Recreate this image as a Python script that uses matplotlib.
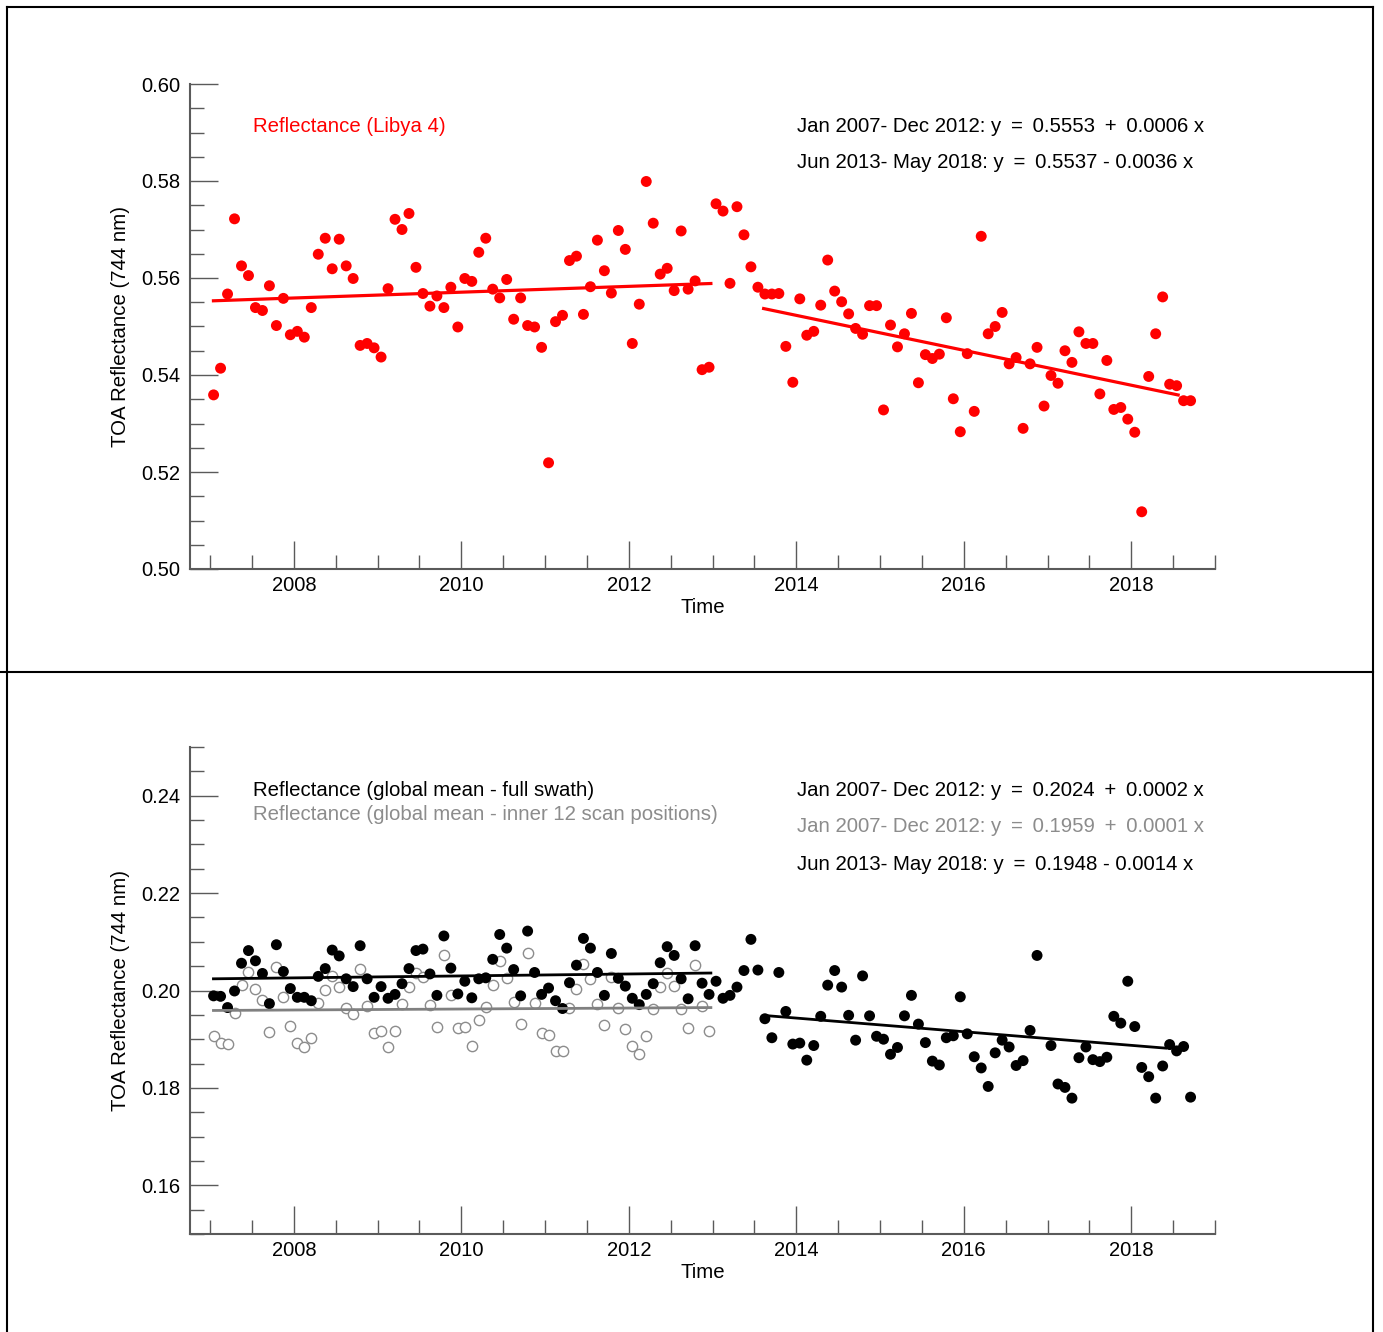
import matplotlib
matplotlib.use("Agg")
import matplotlib.pyplot as plt
import numpy as np
import pandas as pd
from matplotlib.lines import Line2D
from matplotlib.ticker import MultipleLocator

plt.rcParams["font.family"] = ["Liberation Sans", "DejaVu Sans"]

# monthly sample months, Jan 2007 - Sep 2018
months = pd.date_range("2007-01-01", periods=141, freq="MS")

# Libya 4 reflectance (top panel)
libya = [
    0.5359, 0.5414, 0.5567, 0.5722, 0.5625, 0.5605, 0.5539, 0.5533, 0.5584, 0.5502, 0.5558, 0.5483,
    0.5490, 0.5478, 0.5539, 0.5649, 0.5682, 0.5619, 0.5680, 0.5625, 0.5599, 0.5461, 0.5465, 0.5456,
    0.5437, 0.5578, 0.5721, 0.5700, 0.5733, 0.5622, 0.5568, 0.5542, 0.5563, 0.5539, 0.5581, 0.5499,
    0.5599, 0.5593, 0.5653, 0.5682, 0.5577, 0.5559, 0.5597, 0.5515, 0.5559, 0.5502, 0.5499, 0.5457,
    0.5219, 0.5510, 0.5523, 0.5636, 0.5645, 0.5525, 0.5582, 0.5678, 0.5615, 0.5569, 0.5698, 0.5659,
    0.5465, 0.5546, 0.5799, 0.5713, 0.5608, 0.5620, 0.5574, 0.5697, 0.5577, 0.5594, 0.5411, 0.5416,
    0.5753, 0.5738, 0.5589, 0.5747, 0.5689, 0.5623, 0.5581, 0.5567, 0.5567, 0.5568, 0.5459, 0.5385,
    0.5557, 0.5482, 0.5490, 0.5544, 0.5637, 0.5573, 0.5551, 0.5526, 0.5496, 0.5484, 0.5543, 0.5543,
    0.5328, 0.5503, 0.5458, 0.5485, 0.5527, 0.5384, 0.5442, 0.5434, 0.5443, 0.5518, 0.5351, 0.5283,
    0.5444, 0.5325, 0.5686, 0.5485, 0.5500, 0.5529, 0.5423, 0.5436, 0.5290, 0.5423, 0.5457, 0.5336,
    0.5399, 0.5383, 0.5450, 0.5426, 0.5489, 0.5465, 0.5465, 0.5361, 0.5430, 0.5329, 0.5333, 0.5309,
    0.5282, 0.5118, 0.5397, 0.5485, 0.5561, 0.5381, 0.5378, 0.5347, 0.5347,
]

# global mean, full swath (bottom panel, filled black)
full_swath = [
    0.1989, 0.1988, 0.1965, 0.1999, 0.2056, 0.2082, 0.2061, 0.2035, 0.1973, 0.2094, 0.2039, 0.2004,
    0.1986, 0.1986, 0.1979, 0.2029, 0.2045, 0.2083, 0.2071, 0.2024, 0.2008, 0.2092, 0.2024, 0.1986,
    0.2008, 0.1984, 0.1992, 0.2014, 0.2045, 0.2082, 0.2085, 0.2034, 0.1990, 0.2112, 0.2046, 0.1993,
    0.2019, 0.1985, 0.2024, 0.2026, 0.2064, 0.2115, 0.2087, 0.2043, 0.1989, 0.2122, 0.2037, 0.1992,
    0.2005, 0.1979, 0.1963, 0.2016, 0.2052, 0.2107, 0.2087, 0.2037, 0.1990, 0.2076, 0.2025, 0.2009,
    0.1984, 0.1971, 0.1992, 0.2014, 0.2057, 0.2090, 0.2072, 0.2024, 0.1983, 0.2092, 0.2015, 0.1992,
    0.2019, 0.1984, 0.1990, 0.2007, 0.2041, 0.2105, 0.2042, 0.1942, 0.1903, 0.2037, 0.1957, 0.1890,
    0.1892, 0.1857, 0.1887, 0.1947, 0.2011, 0.2041, 0.2007, 0.1949, 0.1898, 0.2030, 0.1948, 0.1906,
    0.1900, 0.1869, 0.1883, 0.1948, 0.1990, 0.1931, 0.1893, 0.1855, 0.1847, 0.1903, 0.1907, 0.1987,
    0.1911, 0.1864, 0.1841, 0.1803, 0.1872, 0.1898, 0.1884, 0.1846, 0.1856, 0.1918, 0.2072, np.nan,
    0.1887, 0.1808, 0.1801, 0.1779, 0.1862, 0.1884, 0.1858, 0.1854, 0.1863, 0.1947, 0.1933, 0.2019,
    0.1926, 0.1842, 0.1823, 0.1779, 0.1845, 0.1889, 0.1876, 0.1885, 0.1781,
]

# global mean, inner 12 scan positions (open gray, 2007-2012 only)
inner12 = [
    0.1907, 0.1893, 0.1891, 0.1953, 0.2011, 0.2038, 0.2003, 0.1980, 0.1914, 0.2049, 0.1986, 0.1928,
    0.1892, 0.1883, 0.1902, 0.1975, 0.2001, 0.2030, 0.2008, 0.1965, 0.1952, 0.2045, 0.1968, 0.1912,
    0.1917, 0.1885, 0.1916, 0.1973, 0.2008, 0.2035, 0.2028, 0.1971, 0.1926, 0.2072, 0.1990, 0.1922,
    0.1926, 0.1887, 0.1940, 0.1967, 0.2012, 0.2060, 0.2025, 0.1977, 0.1931, 0.2078, 0.1975, 0.1913,
    0.1909, 0.1876, 0.1876, 0.1964, 0.2004, 0.2055, 0.2023, 0.1973, 0.1929, 0.2028, 0.1964, 0.1920,
    0.1887, 0.1870, 0.1906, 0.1962, 0.2007, 0.2036, 0.2010, 0.1962, 0.1922, 0.2052, 0.1968, 0.1916,
]

# linear fits: (intercept, slope per year, start year, end year)
fit_libya_1 = (0.5553, 0.0006, 2007.04, 2012.98)
fit_libya_2 = (0.5537, -0.0036, 2013.61, 2018.56)
fit_full_1 = (0.2024, 0.0002, 2007.04, 2012.98)
fit_inner_1 = (0.1959, 0.0001, 2007.04, 2012.98)
fit_full_2 = (0.1948, -0.0014, 2013.67, 2018.41)

t = months.year + (months.month - 0.5) / 12.0
t = np.asarray(t, dtype=float)

W, H = 1383, 1332
fig = plt.figure(figsize=(W / 100, H / 100), dpi=100)

AX_GRAY = "#5a5a5a"
LIGHT = "#8c8c8c"
FS = 14.7
TS = "\u2009"  # thin space, the "=" and "+" in the original are set wider


def fx(px):
    return px / W


def fy(py):
    return 1 - py / H


def eq_text(period, a, b):
    sign = "+" if b >= 0 else "-"
    if sign == "+":
        tail = f"{TS}+{TS} {abs(b):.4f} x"
    else:
        tail = f"- {abs(b):.4f} x"
    return f"{period}: y {TS}={TS} {a:.4f} " + tail


def style_axes(ax, ylo, yhi, yticks):
    ax.set_xlim(2006.76, 2019.0)
    ax.set_ylim(ylo, yhi)
    for s in ["top", "right"]:
        ax.spines[s].set_visible(False)
    for s in ["left", "bottom"]:
        ax.spines[s].set_color(AX_GRAY)
        ax.spines[s].set_linewidth(1.5)
    ax.set_xticks([2008, 2010, 2012, 2014, 2016, 2018])
    ax.xaxis.set_minor_locator(MultipleLocator(0.5))
    ax.set_yticks(yticks)
    ax.yaxis.set_minor_locator(MultipleLocator(0.005))
    ax.yaxis.set_major_formatter(plt.FormatStrFormatter("%.2f"))
    ax.tick_params(which="both", direction="in", color=AX_GRAY, width=1.0, labelsize=14.5)
    ax.tick_params(which="major", length=20)
    ax.tick_params(which="minor", length=10)
    ax.tick_params(axis="y", pad=7)
    ax.tick_params(axis="x", pad=5)
    ax.set_xlabel("Time", fontsize=FS, labelpad=2)
    ax.set_ylabel("TOA Reflectance (744 nm)", fontsize=FS, labelpad=8)


def draw_fit(ax, fit, **kw):
    a, b, t0, t1 = fit
    xs = np.array([t0, t1])
    ax.plot(xs, a + b * (xs - t0), **kw)


# ---- top panel ----
ax1 = fig.add_axes([fx(190), fy(569), fx(1215) - fx(190), fy(84) - fy(569)])
style_axes(ax1, 0.50, 0.60, [0.50, 0.52, 0.54, 0.56, 0.58, 0.60])
ax1.scatter(t, libya, s=62, color="#ff0000", edgecolors="none", zorder=3)
draw_fit(ax1, fit_libya_1, color="#ff0000", lw=2.3, zorder=4)
draw_fit(ax1, fit_libya_2, color="#ff0000", lw=2.3, zorder=4)

fig.text(fx(253), fy(126), "Reflectance (Libya 4)", color="#ff0000", fontsize=FS, va="center")
fig.text(fx(797), fy(126), eq_text("Jan 2007- Dec 2012", 0.5553, 0.0006), fontsize=FS, va="center")
fig.text(fx(797), fy(162), eq_text("Jun 2013- May 2018", 0.5537, -0.0036), fontsize=FS, va="center")

# ---- bottom panel ----
ax2 = fig.add_axes([fx(190), fy(1234), fx(1215) - fx(190), fy(747) - fy(1234)])
style_axes(ax2, 0.15, 0.25, [0.16, 0.18, 0.20, 0.22, 0.24])
ax2.scatter(t[:len(inner12)], inner12, s=55, facecolors="white", edgecolors=LIGHT,
            linewidths=1.0, zorder=2)
ax2.scatter(t, full_swath, s=62, color="black", edgecolors="none", zorder=3)
draw_fit(ax2, fit_full_1, color="black", lw=2.0, zorder=4)
draw_fit(ax2, fit_inner_1, color="#808080", lw=2.0, zorder=4)
draw_fit(ax2, fit_full_2, color="black", lw=2.0, zorder=4)

fig.text(fx(253), fy(791), "Reflectance (global mean - full swath)", fontsize=FS, va="center")
fig.text(fx(253), fy(815), "Reflectance (global mean - inner 12 scan positions)",
         color=LIGHT, fontsize=FS, va="center")
fig.text(fx(797), fy(791), eq_text("Jan 2007- Dec 2012", 0.2024, 0.0002), fontsize=FS, va="center")
fig.text(fx(797), fy(827), eq_text("Jan 2007- Dec 2012", 0.1959, 0.0001), color=LIGHT,
         fontsize=FS, va="center")
fig.text(fx(797), fy(864), eq_text("Jun 2013- May 2018", 0.1948, -0.0014), fontsize=FS, va="center")

# ---- panel frames ----
frame = [
    ((7, 1373), (7, 7)),
    ((7, 7), (7, 1332)),
    ((1373, 1373), (7, 1332)),
    ((0, 1373), (672, 672)),
]
for xs, ys in frame:
    fig.add_artist(Line2D([fx(v) for v in xs], [fy(v) for v in ys], color="black",
                          lw=1.5, transform=fig.transFigure))

fig.savefig("out.png", dpi=100)
